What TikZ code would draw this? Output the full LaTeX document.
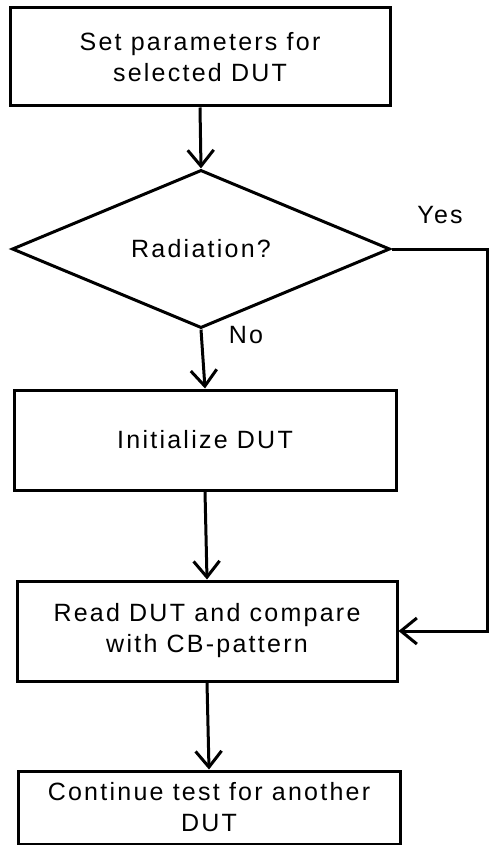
\documentclass[tikz,border=0pt]{standalone}
\usepackage{fontspec}
\setmainfont{Liberation Sans}[LetterSpace=9]
\usetikzlibrary{shapes.geometric,arrows.meta}
\begin{document}
\begin{tikzpicture}[x=1pt,y=-1pt,
  every node/.style={font=\fontsize{25pt}{31pt}\selectfont},
  box/.style={draw,line width=3pt,rectangle,inner sep=0pt,align=center},
  dec/.style={draw,line width=3pt,diamond,inner sep=0pt,minimum width=378pt,minimum height=96pt},
  arr/.style={line width=3pt,-{Straight Barb[length=16pt,width=26pt,line width=3pt]}},
  ln/.style={line width=3pt}]
\useasboundingbox (0,0) rectangle (489,845);
\node[box,minimum width=380pt,minimum height=98pt] (b1) at (200,57) {Set parameters for\\selected DUT};
\node[dec] (d) at (201,249) {Radiation?};
\node[box,minimum width=382pt,minimum height=100pt] (b2) at (205,440) {Initialize DUT};
\node[box,minimum width=380pt,minimum height=100pt] (b3) at (207,631) {Read DUT and compare\\with CB-pattern};
\node[box,minimum width=382pt,minimum height=73pt] (b4) at (209,807.5) {Continue test for another\\DUT};
\node (yes) at (440,215) {Yes};
\node (no) at (246,335) {No};
\coordinate (r1) at (487,249);
\coordinate (r2) at (487,631);
\draw[arr] (b1.south) -- (d.north);
\draw[arr] (d.south) -- (b2.north);
\draw[arr] (b2.south) -- (b3.north);
\draw[arr] (b3.south) -- (b4.north);
\draw[arr] (d.east) -- (r1) -- (r2) -- (b3.east);
\end{tikzpicture}
\end{document}
